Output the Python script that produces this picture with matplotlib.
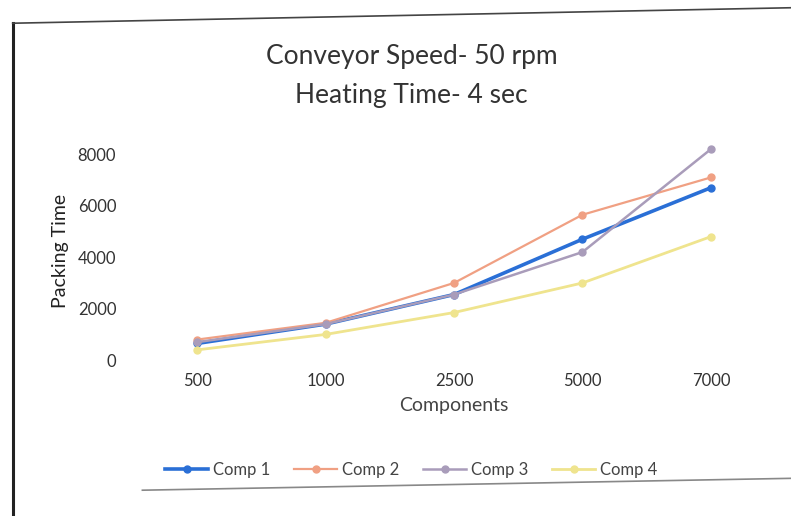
import matplotlib.pyplot as plt
from matplotlib.lines import Line2D

plt.rcParams['font.family'] = ['Lato', 'DejaVu Sans']

# Packing time per number of components, one series per compartment
components = ['500', '1000', '2500', '5000', '7000']
comp1 = [650, 1400, 2550, 4700, 6700]
comp2 = [800, 1450, 3000, 5650, 7100]
comp3 = [700, 1400, 2550, 4200, 8200]
comp4 = [400, 1000, 1850, 3000, 4800]
series_names = ['Comp 1', 'Comp 2', 'Comp 3', 'Comp 4']
yticks = [0, 2000, 4000, 6000, 8000]

colors = ['#2a6fd6', '#f0a083', '#a99cba', '#efe48e']
widths = [2.6, 1.6, 1.8, 2.0]

fig = plt.figure(figsize=(7.91, 5.16), dpi=100)

# chart border
fig.add_artist(Line2D([0.016, 0.016], [0.0, 0.955], transform=fig.transFigure,
                      color='#222222', lw=2.2))
fig.add_artist(Line2D([0.016, 1.0], [0.955, 0.985], transform=fig.transFigure,
                      color='#444444', lw=1.2))
fig.add_artist(Line2D([0.18, 1.0], [0.05, 0.073], transform=fig.transFigure,
                      color='#888888', lw=1.2))

ax = fig.add_axes([0.168, 0.302, 0.812, 0.424])
x = range(len(components))
for vals, name, c, w in zip([comp1, comp2, comp3, comp4], series_names, colors, widths):
    ax.plot(x, vals, color=c, lw=w, marker='o', markersize=5, label=name)

ax.set_xlim(-0.5, len(components) - 0.5)
ax.set_ylim(0, 8500)
ax.set_yticks(yticks)
ax.set_xticks(list(x))
ax.set_xticklabels(components)
for s in ax.spines.values():
    s.set_visible(False)
ax.tick_params(length=0, labelsize=12, colors='#333333')
ax.tick_params(axis='y', pad=12)
ax.tick_params(axis='x', pad=9)

ax.set_xlabel('Components', fontsize=14, color='#444444', labelpad=6)
ax.set_ylabel('Packing Time', fontsize=14, color='#222222', labelpad=6)

fig.text(0.52, 0.89, 'Conveyor Speed- 50 rpm', ha='center', va='center',
         fontsize=19, color='#333333')
fig.text(0.52, 0.815, 'Heating Time- 4 sec', ha='center', va='center',
         fontsize=19, color='#333333')

fig.legend(loc='center', bbox_to_anchor=(0.52, 0.09), ncol=4, frameon=False,
           fontsize=12, handlelength=2.6, handletextpad=0.3, columnspacing=1.4,
           labelcolor='#444444')

fig.savefig('out.png', dpi=100)
